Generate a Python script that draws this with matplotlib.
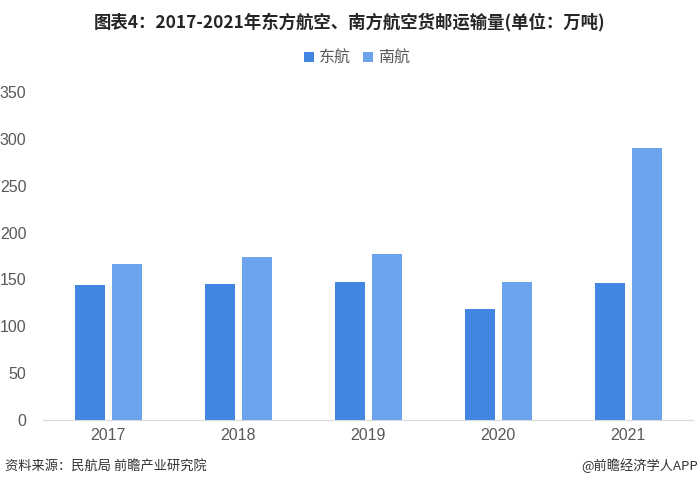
import numpy as np
import matplotlib.pyplot as plt

plt.rcParams['font.family'] = ['Liberation Sans', 'Noto Sans CJK SC', 'DejaVu Sans']

years = ['2017', '2018', '2019', '2020', '2021']
dong = [144, 145, 147, 118, 146]
nan = [167, 174, 177, 147, 290]

c_dong = '#4186E2'
c_nan = '#6CA3EC'

fig = plt.figure(figsize=(7, 4.87), dpi=100)
ax = fig.add_axes([0.0614, 0.1376, 0.9286, 0.6734])

x = np.arange(len(years))
w = 0.23
ax.bar(x - 0.14, dong, w, color=c_dong, label='东航')
ax.bar(x + 0.145, nan, w, color=c_nan, label='南航')

ax.set_xlim(-0.5, 4.5)
ax.set_ylim(0, 350)
ax.set_yticks(range(0, 351, 50))
ax.set_xticks(x)
ax.set_xticklabels(years)
for s in ['top', 'right', 'left']:
    ax.spines[s].set_visible(False)
ax.spines['bottom'].set_color('#d9d9d9')
ax.tick_params(axis='both', length=0, labelsize=11.5, labelcolor='#595959')
ax.tick_params(axis='y', pad=12)
ax.tick_params(axis='x', pad=6)

fig.text(0.5, 0.955, '图表4：2017-2021年东方航空、南方航空货邮运输量(单位：万吨)',
         ha='center', va='center', fontsize=12.5, fontweight='bold', color='#262626',
         family=['Noto Sans CJK SC', 'DejaVu Sans'])

fig.legend(loc='center', bbox_to_anchor=(0.51, 0.88), ncol=2, frameon=False,
           handlelength=0.6, handleheight=0.6, handletextpad=0.3,
           columnspacing=0.8, labelcolor='#595959',
           prop={'family': ['Noto Sans CJK SC'], 'size': 11.5})

fig.text(0.007, 0.043, '资料来源：民航局 前瞻产业研究院', ha='left', va='center',
         fontsize=9.5, color='#333333', family=['Noto Sans CJK SC', 'DejaVu Sans'])
fig.text(0.997, 0.043, '@前瞻经济学人APP', ha='right', va='center',
         fontsize=9.5, color='#333333', family=['Noto Sans CJK SC', 'DejaVu Sans'])

fig.savefig('out.png', dpi=100)
